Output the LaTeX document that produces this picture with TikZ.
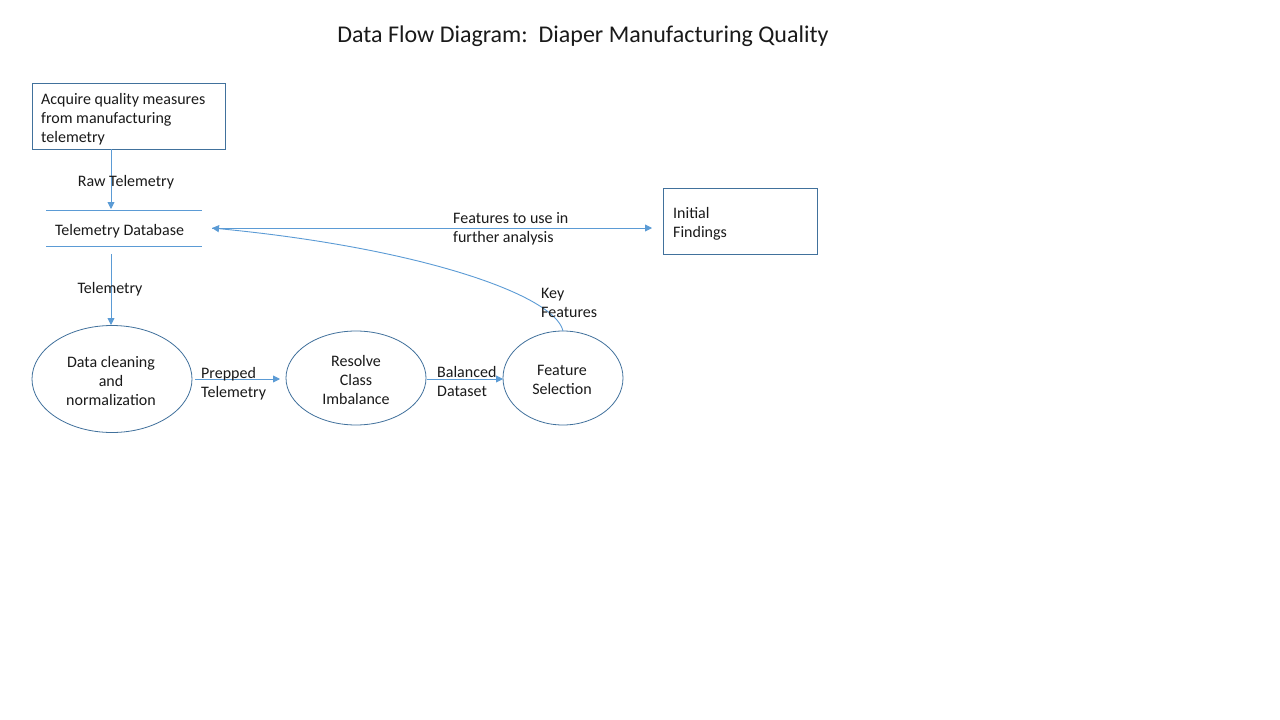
\documentclass[tikz,border=0pt]{standalone}
\usepackage{fontspec}
\setmainfont{Carlito}
\usetikzlibrary{arrows.meta,shapes.geometric}
\definecolor{lineblue}{HTML}{5B9BD5}
\definecolor{edgeblue}{HTML}{41719C}
\definecolor{txt}{HTML}{1A1A1A}
\tikzset{
  x=1pt,y=-1pt,
  lbl/.style={inner sep=0pt,text=txt,font=\fontsize{16}{19}\selectfont,align=left},
  clbl/.style={inner sep=0pt,text=txt,font=\fontsize{16}{19}\selectfont,align=center},
  procbox/.style={draw=edgeblue,line width=0.8pt},
  proc/.style={draw=edgeblue,line width=0.8pt,ellipse,inner sep=0pt},
  flow/.style={draw=lineblue,line width=0.9pt,-{Triangle[length=7pt,width=7pt]}},
  dbline/.style={draw=lineblue,line width=0.9pt},
}
\begin{document}
\begin{tikzpicture}
\useasboundingbox (0,0) rectangle (1280,720);
\fill[white] (0,0) rectangle (1280,720);
% title
\node[inner sep=0pt,text=txt,font=\fontsize{24}{28}\selectfont] (title) at (583,36) {Data Flow Diagram:\ \ Diaper Manufacturing Quality};
% source box
\draw[procbox] (32,83) rectangle (225,149);
\node[lbl,anchor=west] (acq) at (41,119) {Acquire quality measures\\from manufacturing\\telemetry};
\coordinate (acqS) at (111,149);
% database
\node[minimum width=156pt,minimum height=36pt,inner sep=0pt] (db) at (124,228) {};
\draw[dbline] (46,210) -- (202,210);
\draw[dbline] (46,246) -- (202,246);
\node[clbl] (dbt) at (119.5,231) {Telemetry Database};
\coordinate (dbN) at (111,209);
\coordinate (dbS) at (111,254);
\coordinate (dbE) at (212,228);
% ellipses
\node[proc,minimum width=160pt,minimum height=107pt] (clean) at (112,379) {};
\node[clbl] (cleant) at (111,381) {Data cleaning\\and\\normalization};
\node[proc,minimum width=140pt,minimum height=94pt] (resolve) at (356,378) {};
\node[clbl] (resolvet) at (356,380) {Resolve\\Class\\Imbalance};
\node[proc,minimum width=120pt,minimum height=94pt] (feat) at (563,378) {};
\node[clbl] (featt) at (562,380) {Feature\\Selection};
% initial findings
\draw[procbox] (663,188) rectangle (817,254);
\node[minimum width=154pt,minimum height=66pt,inner sep=0pt] (init) at (740,221) {};
\node[lbl,anchor=west] (initt) at (673,223.5) {Initial\\Findings};
% connectors
\draw[flow] (acqS) -- (dbN);
\node[clbl] (rawl) at (126,182) {Raw Telemetry};
\draw[flow] (dbS) -- (111,325);
\node[clbl] (teleml) at (110,289) {Telemetry};
\draw[flow] (195,379) -- (280,379);
\node[lbl,anchor=west] (prepl) at (201,383.5) {Prepped\\Telemetry};
\draw[flow] (427,379) -- (503,379);
\node[lbl,anchor=west] (ball) at (437,381.5) {Balanced\\Dataset};
\draw[flow] (563,331) .. controls (555,295) and (420,248) .. (dbE);
\node[lbl,anchor=west] (keyl) at (541,302.5) {Key\\Features};
\draw[flow] (dbE) -- (652,228);
\node[lbl,anchor=west] (featl) at (453,228.5) {Features to use in\\further analysis};
\end{tikzpicture}
\end{document}
